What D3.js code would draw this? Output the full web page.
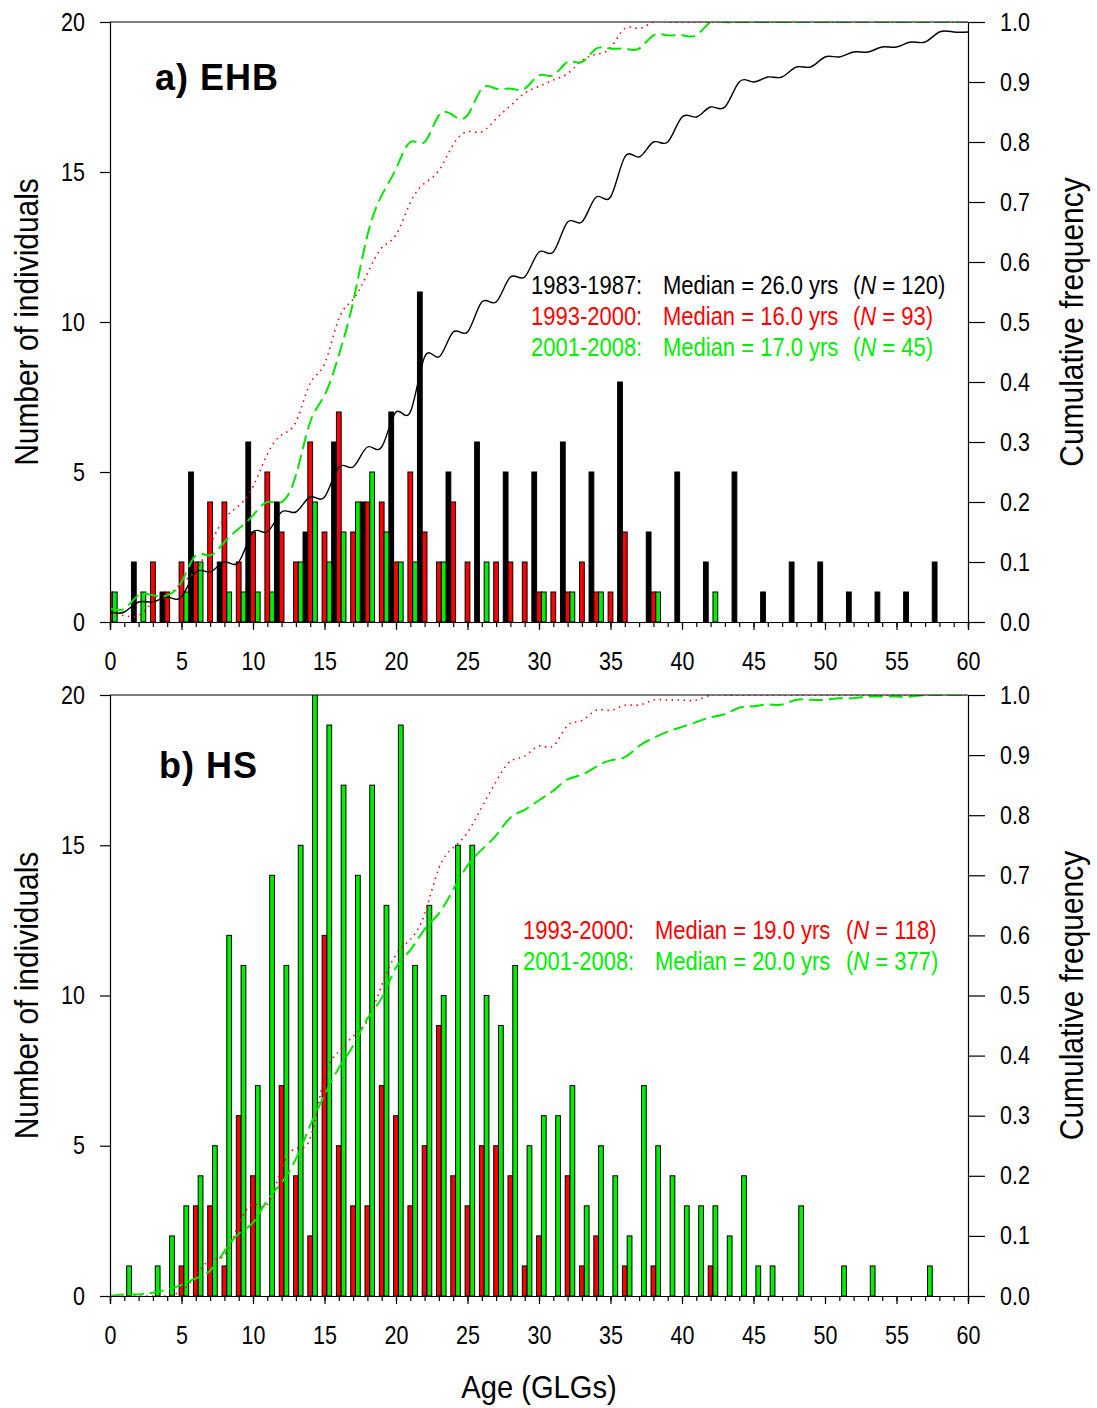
<!DOCTYPE html>
<html>
<head>
<meta charset="utf-8">
<script src="https://cdn.jsdelivr.net/npm/d3@7/dist/d3.min.js"></script>
<style>
  body { margin: 0; background: #fff; }
  svg { display: block; }
  text { font-family: "Liberation Sans", Arial, sans-serif; }
</style>
</head>
<body>
<svg id="chart" width="1097" height="1408"></svg>
<script>
// counts per age, [age, count]
const ehb1983 = [[0,2],[2,2],[4,1],[6,5],[8,2],[10,6],[12,4],[14,3],[16,6],[18,4],[20,7],[22,11],[24,5],[26,6],[28,5],[30,5],[32,6],[34,5],[36,8],[38,3],[40,5],[42,2],[44,5],[46,1],[48,2],[50,2],[52,1],[54,1],[56,1],[58,2]];
const ehb1993 = [[0,1],[3,2],[4,1],[5,2],[6,2],[7,4],[8,4],[9,2],[10,3],[11,5],[12,3],[13,2],[14,6],[15,3],[16,7],[17,3],[18,4],[19,4],[20,2],[21,5],[22,3],[23,2],[24,4],[25,2],[27,2],[28,2],[29,2],[30,1],[31,1],[32,1],[33,2],[34,1],[35,1],[36,3],[38,1]];
const ehb2001 = [[0,1],[2,1],[5,1],[6,2],[8,1],[9,1],[10,1],[11,1],[13,2],[14,4],[15,2],[16,3],[17,4],[18,5],[19,3],[20,2],[21,2],[23,2],[26,2],[30,1],[32,1],[34,1],[38,1],[42,1]];
const hs1993 = [[5,1],[6,3],[7,3],[8,1],[9,6],[10,4],[12,7],[13,4],[14,2],[15,12],[16,5],[17,3],[18,3],[19,7],[20,6],[21,3],[22,5],[23,9],[24,4],[25,3],[26,5],[27,5],[28,4],[29,1],[30,2],[32,4],[33,1],[34,2],[36,1],[38,1],[42,1]];
const hs2001 = [[1,1],[3,1],[4,2],[5,3],[6,4],[7,5],[8,12],[9,11],[10,7],[11,14],[12,11],[13,15],[14,21],[15,19],[16,17],[17,14],[18,17],[19,13],[20,19],[21,11],[22,13],[23,10],[24,15],[25,15],[26,10],[27,9],[28,11],[29,5],[30,6],[31,6],[32,7],[33,3],[34,5],[35,4],[36,2],[37,7],[38,5],[39,4],[40,3],[41,3],[42,3],[43,2],[44,4],[45,1],[46,1],[48,3],[51,1],[53,1],[57,1]];

const periods = ["1983-1987:", "1993-2000:", "2001-2008:"];
const ehbMedians = ["26.0", "16.0", "17.0"];
const ehbN = [120, 93, 45];
const hsMedians = ["19.0", "20.0"];
const hsN = [118, 377];

const xTicks = d3.range(0, 61, 5);
const leftTicks = [0, 5, 10, 15, 20];
const rightTicks = d3.range(0, 1.01, 0.1);

const svg = d3.select("#chart");
const x = d3.scaleLinear().domain([0, 60]).range([110, 968]);
const ages = d3.range(0, 61);

const styles = {
  black: { fill: "#000", line: "#000", text: "#000", dash: null, width: 1.4, slot: -0.5 },
  red:   { fill: "#ff0000", line: "#ff0000", text: "#ff0000", dash: "1.5,4.5", width: 1.6, slot: -1/6 },
  green: { fill: "#00ee00", line: "#00e600", text: "#00ee00", dash: "14,6", width: 2, slot: 1/6 }
};

// fake a condensed face: squeeze each text horizontally about its own x
function squeeze(sel, s) {
  sel.each(function () {
    const t = d3.select(this);
    const x0 = +t.attr("x") || 0;
    t.attr("transform", `translate(${x0 * (1 - s)},0) scale(${s},1)`);
  });
}

function drawPanel(opts) {
  const { top, bottom, series, title, titleX, titleY, legend, id } = opts;
  const y = d3.scaleLinear().domain([0, 20]).range([bottom, top]);
  const yr = d3.scaleLinear().domain([0, 1]).range([bottom, top]);
  const g = svg.append("g");

  g.append("clipPath").attr("id", id)
    .append("rect").attr("x", x(0)).attr("y", top).attr("width", x(60) - x(0)).attr("height", bottom - top);

  const plot = g.append("g").attr("clip-path", `url(#${id})`);

  // bars
  series.forEach(s => {
    const st = styles[s.style];
    plot.selectAll(null).data(s.data).enter().append("rect")
      .attr("x", d => x(d[0] + st.slot))
      .attr("y", d => y(d[1]))
      .attr("width", x(1/3) - x(0))
      .attr("height", d => y(0) - y(d[1]))
      .attr("fill", st.fill)
      .attr("stroke", "#000")
      .attr("stroke-width", 1);
  });

  // cumulative frequency curves
  series.forEach(s => {
    const st = styles[s.style];
    const counts = new Map(s.data);
    let run = 0;
    const cum = ages.map(a => { run += counts.get(a) || 0; return [a, run / s.n]; });
    plot.append("path")
      .attr("d", d3.line().x(d => x(d[0])).y(d => yr(d[1])).curve(d3.curveNatural)(cum))
      .attr("fill", "none")
      .attr("stroke", st.line)
      .attr("stroke-width", st.width)
      .attr("stroke-dasharray", st.dash);
  });

  // axes
  g.append("g").attr("transform", `translate(${x(0)},0)`)
    .call(d3.axisLeft(y).tickValues(leftTicks).tickSize(10).tickPadding(15));
  g.append("g").attr("transform", `translate(${x(60)},0)`)
    .call(d3.axisRight(yr).tickValues(rightTicks).tickSize(17).tickPadding(15).tickFormat(d3.format(".1f")));
  g.append("g").attr("transform", `translate(0,${bottom})`)
    .call(d3.axisBottom(x).tickValues(ages).tickSize(5).tickFormat(""));
  g.append("g").attr("transform", `translate(0,${bottom})`)
    .call(d3.axisBottom(x).tickValues(xTicks).tickSize(8).tickPadding(22));
  g.append("line").attr("x1", x(0)).attr("x2", x(60)).attr("y1", top).attr("y2", top)
    .attr("stroke", "#000").attr("stroke-width", 1.2);

  g.selectAll(".domain").attr("stroke", "#000").attr("stroke-width", 1.2);
  g.selectAll(".tick line").attr("stroke", "#000").attr("stroke-width", 1.2);
  g.selectAll(".tick text").attr("font-size", 25).attr("fill", "#000")
    .attr("font-family", '"Liberation Sans", Arial, sans-serif')
    .call(squeeze, 0.86);

  // panel title
  g.append("text").attr("x", titleX).attr("y", titleY)
    .attr("font-weight", "bold").attr("font-size", 36).attr("letter-spacing", 1)
    .text(title);

  // axis titles
  const mid = (top + bottom) / 2;
  g.append("text").attr("transform", `translate(38,${mid}) rotate(-90) scale(0.88,1)`)
    .attr("text-anchor", "middle").attr("font-size", 34).text("Number of individuals");
  g.append("text").attr("transform", `translate(1083,${mid}) rotate(-90) scale(0.88,1)`)
    .attr("text-anchor", "middle").attr("font-size", 34).text("Cumulative frequency");

  // median legend
  legend.rows.forEach((r, i) => {
    const yy = legend.y + i * 31;
    const t = g.append("g").attr("fill", styles[r.style].text).attr("font-size", 25);
    t.append("text").attr("x", legend.cols[0]).attr("y", yy).text(r.period);
    t.append("text").attr("x", legend.cols[1]).attr("y", yy).text(`Median = ${r.median} yrs`);
    const n = t.append("text").attr("x", legend.cols[2]).attr("y", yy);
    n.append("tspan").text("(");
    n.append("tspan").attr("font-style", "italic").text("N");
    n.append("tspan").text(` = ${r.n})`);
    t.selectAll("text").call(squeeze, 0.88);
  });
}

drawPanel({
  id: "clipA", top: 22, bottom: 622,
  title: "a) EHB", titleX: 155, titleY: 90,
  series: [
    { data: ehb1983, n: ehbN[0], style: "black" },
    { data: ehb1993, n: ehbN[1], style: "red" },
    { data: ehb2001, n: ehbN[2], style: "green" }
  ],
  legend: {
    y: 294, cols: [531, 663, 853],
    rows: [
      { period: periods[0], median: ehbMedians[0], n: ehbN[0], style: "black" },
      { period: periods[1], median: ehbMedians[1], n: ehbN[1], style: "red" },
      { period: periods[2], median: ehbMedians[2], n: ehbN[2], style: "green" }
    ]
  }
});

drawPanel({
  id: "clipB", top: 695, bottom: 1296,
  title: "b) HS", titleX: 159, titleY: 778,
  series: [
    { data: hs1993, n: hsN[0], style: "red" },
    { data: hs2001, n: hsN[1], style: "green" }
  ],
  legend: {
    y: 939, cols: [523, 655, 846],
    rows: [
      { period: periods[1], median: hsMedians[0], n: hsN[0], style: "red" },
      { period: periods[2], median: hsMedians[1], n: hsN[1], style: "green" }
    ]
  }
});

svg.append("text").attr("transform", "translate(539,1398) scale(0.91,1)").attr("text-anchor", "middle")
  .attr("font-size", 32).text("Age (GLGs)");
</script>
</body>
</html>
